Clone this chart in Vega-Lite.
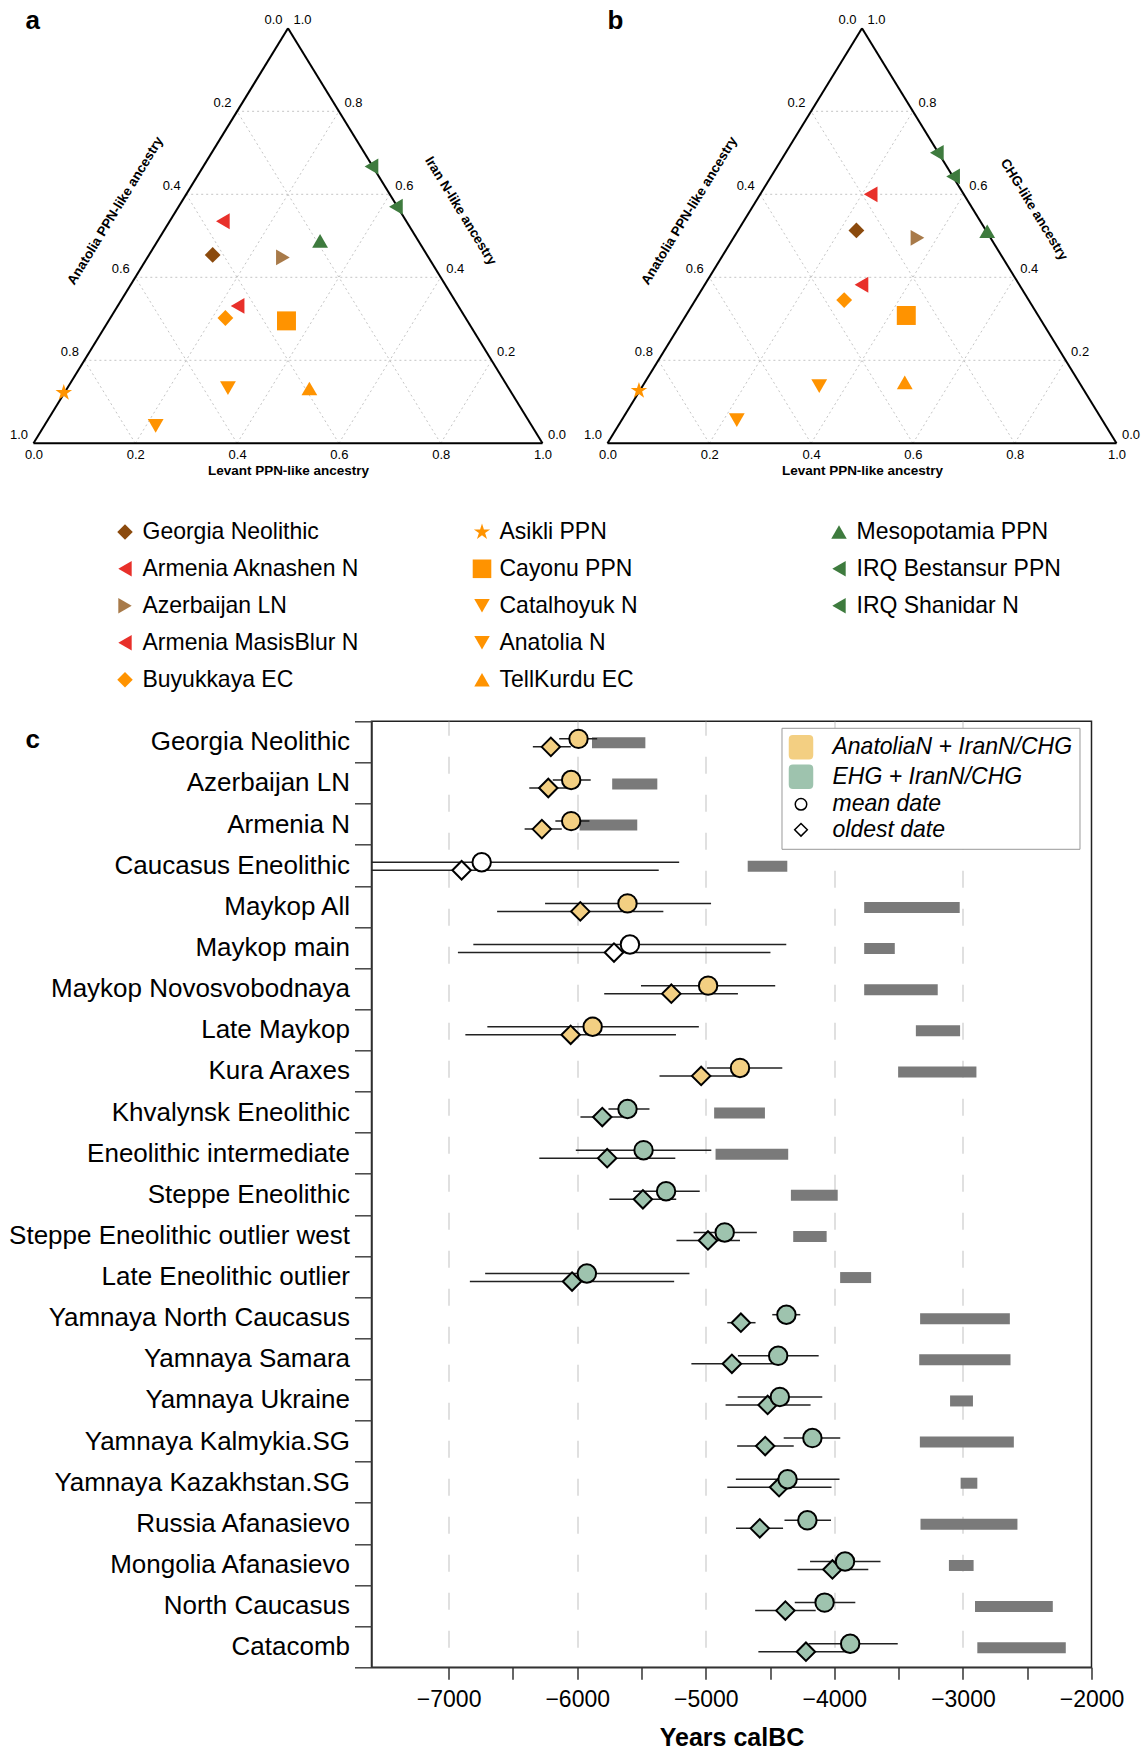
{
  "$schema": "https://vega.github.io/schema/vega-lite/v6.json",
  "background": "white",
  "padding": {"left": 7.5, "top": 7.3, "right": 5, "bottom": 5},
  "config": {
    "font": "Liberation Sans",
    "view": {"stroke": null},
    "axis": {"labelFont": "Liberation Sans", "titleFont": "Liberation Sans", "labelColor": "black", "titleColor": "black"},
    "legend": {"labelFont": "Liberation Sans", "labelColor": "black"},
    "title": {"font": "Liberation Sans", "color": "black"}
  },
  "datasets": {
    "edges": [
      {"x": 0, "y": 0, "x2": 1, "y2": 0},
      {"x": 0, "y": 0, "x2": 0.5, "y2": 1},
      {"x": 1, "y": 0, "x2": 0.5, "y2": 1}
    ],
    "grid": [
      {"x": 0.1, "y": 0.2, "x2": 0.9, "y2": 0.2},
      {"x": 0.2, "y": 0.4, "x2": 0.8, "y2": 0.4},
      {"x": 0.3, "y": 0.6, "x2": 0.7, "y2": 0.6},
      {"x": 0.4, "y": 0.8, "x2": 0.6, "y2": 0.8},
      {"x": 0.2, "y": 0, "x2": 0.6, "y2": 0.8},
      {"x": 0.4, "y": 0, "x2": 0.7, "y2": 0.6},
      {"x": 0.6, "y": 0, "x2": 0.8, "y2": 0.4},
      {"x": 0.8, "y": 0, "x2": 0.9, "y2": 0.2},
      {"x": 0.8, "y": 0, "x2": 0.4, "y2": 0.8},
      {"x": 0.6, "y": 0, "x2": 0.3, "y2": 0.6},
      {"x": 0.4, "y": 0, "x2": 0.2, "y2": 0.4},
      {"x": 0.2, "y": 0, "x2": 0.1, "y2": 0.2}
    ],
    "leftLabels": [
      {"x": 0.5, "y": 1, "t": "0.0"},
      {"x": 0.4, "y": 0.8, "t": "0.2"},
      {"x": 0.3, "y": 0.6, "t": "0.4"},
      {"x": 0.2, "y": 0.4, "t": "0.6"},
      {"x": 0.1, "y": 0.2, "t": "0.8"},
      {"x": 0, "y": 0, "t": "1.0"}
    ],
    "rightLabels": [
      {"x": 0.5, "y": 1, "t": "1.0"},
      {"x": 0.6, "y": 0.8, "t": "0.8"},
      {"x": 0.7, "y": 0.6, "t": "0.6"},
      {"x": 0.8, "y": 0.4, "t": "0.4"},
      {"x": 0.9, "y": 0.2, "t": "0.2"},
      {"x": 1, "y": 0, "t": "0.0"}
    ],
    "ptsA": [
      {"pop": "Georgia Neolithic", "x": 0.352, "y": 0.454},
      {"pop": "Armenia Aknashen N", "x": 0.372, "y": 0.535},
      {"pop": "Azerbaijan LN", "x": 0.49, "y": 0.448},
      {"pop": "Armenia MasisBlur N", "x": 0.401, "y": 0.331},
      {"pop": "Buyukkaya EC", "x": 0.377, "y": 0.302},
      {"pop": "Asikli PPN", "x": 0.0595, "y": 0.122},
      {"pop": "Cayonu PPN", "x": 0.497, "y": 0.295},
      {"pop": "Catalhoyuk N", "x": 0.382, "y": 0.133},
      {"pop": "Anatolia N", "x": 0.24, "y": 0.042},
      {"pop": "TellKurdu EC", "x": 0.542, "y": 0.132},
      {"pop": "Mesopotamia PPN", "x": 0.563, "y": 0.488},
      {"pop": "IRQ Bestansur PPN", "x": 0.664, "y": 0.667},
      {"pop": "IRQ Shanidar N", "x": 0.712, "y": 0.57}
    ],
    "ptsB": [
      {"pop": "Georgia Neolithic", "x": 0.489, "y": 0.513},
      {"pop": "Armenia Aknashen N", "x": 0.517, "y": 0.6},
      {"pop": "Azerbaijan LN", "x": 0.609, "y": 0.495},
      {"pop": "Armenia MasisBlur N", "x": 0.499, "y": 0.382},
      {"pop": "Buyukkaya EC", "x": 0.465, "y": 0.345},
      {"pop": "Asikli PPN", "x": 0.0618, "y": 0.127},
      {"pop": "Cayonu PPN", "x": 0.587, "y": 0.308},
      {"pop": "Catalhoyuk N", "x": 0.416, "y": 0.138},
      {"pop": "Anatolia N", "x": 0.254, "y": 0.056},
      {"pop": "TellKurdu EC", "x": 0.584, "y": 0.147},
      {"pop": "Mesopotamia PPN", "x": 0.746, "y": 0.511},
      {"pop": "IRQ Bestansur PPN", "x": 0.647, "y": 0.7},
      {"pop": "IRQ Shanidar N", "x": 0.679, "y": 0.643}
    ],
    "dates": [
      {"pop": "Georgia Neolithic", "grp": "AnatoliaN + IranN/CHG", "mean": -5990, "meanLo": -6140, "meanHi": -5845, "old": -6205, "oldLo": -6345, "oldHi": -6050, "barLo": -5885, "barHi": -5470},
      {"pop": "Azerbaijan LN", "grp": "AnatoliaN + IranN/CHG", "mean": -6047, "meanLo": -6190, "meanHi": -5895, "old": -6225, "oldLo": -6373, "oldHi": -6083, "barLo": -5728, "barHi": -5377},
      {"pop": "Armenia N", "grp": "AnatoliaN + IranN/CHG", "mean": -6047, "meanLo": -6170, "meanHi": -5905, "old": -6275, "oldLo": -6409, "oldHi": -6120, "barLo": -5982, "barHi": -5533},
      {"pop": "Caucasus Eneolithic", "grp": "unassigned", "mean": -6743, "meanLo": -7600, "meanHi": -5207, "old": -6899, "oldLo": -7600, "oldHi": -5366, "barLo": -4674, "barHi": -4366},
      {"pop": "Maykop All", "grp": "AnatoliaN + IranN/CHG", "mean": -5609, "meanLo": -6250, "meanHi": -4959, "old": -5976, "oldLo": -6623, "oldHi": -5330, "barLo": -3768, "barHi": -3025},
      {"pop": "Maykop main", "grp": "unassigned", "mean": -5590, "meanLo": -6808, "meanHi": -4374, "old": -5714, "oldLo": -6928, "oldHi": -4497, "barLo": -3768, "barHi": -3530},
      {"pop": "Maykop Novosvobodnaya", "grp": "AnatoliaN + IranN/CHG", "mean": -4982, "meanLo": -5504, "meanHi": -4460, "old": -5268, "oldLo": -5790, "oldHi": -4750, "barLo": -3768, "barHi": -3196},
      {"pop": "Late Maykop", "grp": "AnatoliaN + IranN/CHG", "mean": -5880, "meanLo": -6699, "meanHi": -5054, "old": -6051, "oldLo": -6870, "oldHi": -5232, "barLo": -3366, "barHi": -3022},
      {"pop": "Kura Araxes", "grp": "AnatoliaN + IranN/CHG", "mean": -4734, "meanLo": -4990, "meanHi": -4405, "old": -5036, "oldLo": -5360, "oldHi": -4750, "barLo": -3504, "barHi": -2895},
      {"pop": "Khvalynsk Eneolithic", "grp": "EHG + IranN/CHG", "mean": -5609, "meanLo": -5757, "meanHi": -5438, "old": -5805, "oldLo": -5975, "oldHi": -5649, "barLo": -4935, "barHi": -4540},
      {"pop": "Eneolithic intermediate", "grp": "EHG + IranN/CHG", "mean": -5484, "meanLo": -6011, "meanHi": -4957, "old": -5767, "oldLo": -6295, "oldHi": -5237, "barLo": -4924, "barHi": -4359},
      {"pop": "Steppe Eneolithic", "grp": "EHG + IranN/CHG", "mean": -5309, "meanLo": -5565, "meanHi": -5047, "old": -5489, "oldLo": -5750, "oldHi": -5230, "barLo": -4338, "barHi": -3974},
      {"pop": "Steppe Eneolithic outlier west", "grp": "EHG + IranN/CHG", "mean": -4853, "meanLo": -5095, "meanHi": -4603, "old": -4983, "oldLo": -5228, "oldHi": -4734, "barLo": -4320, "barHi": -4060},
      {"pop": "Late Eneolithic outlier", "grp": "EHG + IranN/CHG", "mean": -5925, "meanLo": -6716, "meanHi": -5127, "old": -6040, "oldLo": -6835, "oldHi": -5246, "barLo": -3955, "barHi": -3714},
      {"pop": "Yamnaya North Caucasus", "grp": "EHG + IranN/CHG", "mean": -4373, "meanLo": -4483, "meanHi": -4265, "old": -4727, "oldLo": -4833, "oldHi": -4613, "barLo": -3333, "barHi": -2635},
      {"pop": "Yamnaya Samara", "grp": "EHG + IranN/CHG", "mean": -4437, "meanLo": -4750, "meanHi": -4122, "old": -4797, "oldLo": -5112, "oldHi": -4458, "barLo": -3340, "barHi": -2630},
      {"pop": "Yamnaya Ukraine", "grp": "EHG + IranN/CHG", "mean": -4424, "meanLo": -4752, "meanHi": -4094, "old": -4519, "oldLo": -4846, "oldHi": -4185, "barLo": -3100, "barHi": -2922},
      {"pop": "Yamnaya Kalmykia.SG", "grp": "EHG + IranN/CHG", "mean": -4171, "meanLo": -4394, "meanHi": -3954, "old": -4538, "oldLo": -4756, "oldHi": -4316, "barLo": -3335, "barHi": -2604},
      {"pop": "Yamnaya Kazakhstan.SG", "grp": "EHG + IranN/CHG", "mean": -4364, "meanLo": -4766, "meanHi": -3960, "old": -4430, "oldLo": -4833, "oldHi": -4022, "barLo": -3018, "barHi": -2888},
      {"pop": "Russia Afanasievo", "grp": "EHG + IranN/CHG", "mean": -4210, "meanLo": -4388, "meanHi": -4026, "old": -4580, "oldLo": -4765, "oldHi": -4399, "barLo": -3330, "barHi": -2576},
      {"pop": "Mongolia Afanasievo\u00a0", "grp": "EHG + IranN/CHG", "mean": -3917, "meanLo": -4189, "meanHi": -3641, "old": -4015, "oldLo": -4286, "oldHi": -3736, "barLo": -3109, "barHi": -2917},
      {"pop": "North Caucasus", "grp": "EHG + IranN/CHG", "mean": -4076, "meanLo": -4308, "meanHi": -3837, "old": -4381, "oldLo": -4616, "oldHi": -4145, "barLo": -2906, "barHi": -2301},
      {"pop": "Catacomb", "grp": "EHG + IranN/CHG", "mean": -3877, "meanLo": -4200, "meanHi": -3507, "old": -4221, "oldLo": -4591, "oldHi": -3910, "barLo": -2888, "barHi": -2200}
    ]
  },
  "bounds": "flush",
  "spacing": 693,
  "resolve": {
    "scale": {"color": "independent", "shape": "independent", "fill": "independent", "stroke": "independent"},
    "legend": {"color": "independent", "shape": "independent", "fill": "independent", "stroke": "independent"}
  },
  "vconcat": [
    {
      "bounds": "flush",
      "spacing": 65,
      "resolve": {"legend": {"color": "independent", "shape": "independent"}},
      "hconcat": [
        {
          "width": 509,
          "height": 415,
          "title": {"text": "a", "anchor": "start", "frame": "group", "fontSize": 26, "fontWeight": "bold", "dx": -8, "offset": -40.5, "baseline": "alphabetic"},
          "layer": [
            {
              "data": {"name": "grid"},
              "mark": {"type": "rule", "stroke": "#c4c4c4", "strokeDash": [2, 3], "strokeWidth": 1},
              "encoding": {
                "x": {"field": "x", "type": "quantitative", "scale": {"domain": [0, 1], "nice": false, "zero": false},
                  "axis": {"values": [0, 0.2, 0.4, 0.6, 0.8, 1], "format": ".1f", "labelFontSize": 13, "labelFlush": false, "ticks": false, "domain": false, "grid": false, "labelPadding": 5, "title": "Levant PPN-like ancestry", "titleFontSize": 13.5, "titleFontWeight": "bold", "titlePadding": 2}},
                "y": {"field": "y", "type": "quantitative", "scale": {"domain": [0, 1], "nice": false, "zero": false}, "axis": null},
                "x2": {"field": "x2"},
                "y2": {"field": "y2"}
              }
            },
            {
              "data": {"name": "edges"},
              "mark": {"type": "rule", "stroke": "black", "strokeWidth": 2},
              "encoding": {
                "x": {"field": "x", "type": "quantitative"},
                "y": {"field": "y", "type": "quantitative"},
                "x2": {"field": "x2"},
                "y2": {"field": "y2"}
              }
            },
            {
              "data": {"name": "leftLabels"},
              "mark": {"type": "text", "align": "right", "baseline": "alphabetic", "dx": -5.5, "dy": -4, "fontSize": 13, "color": "black"},
              "encoding": {
                "x": {"field": "x", "type": "quantitative"},
                "y": {"field": "y", "type": "quantitative"},
                "text": {"field": "t"}
              }
            },
            {
              "data": {"name": "rightLabels"},
              "mark": {"type": "text", "align": "left", "baseline": "alphabetic", "dx": 5.5, "dy": -4, "fontSize": 13, "color": "black"},
              "encoding": {
                "x": {"field": "x", "type": "quantitative"},
                "y": {"field": "y", "type": "quantitative"},
                "text": {"field": "t"}
              }
            },
            {
              "data": {"values": [{"t": "Anatolia PPN-like ancestry", "x": 0.161, "y": 0.56}]},
              "mark": {"type": "text", "angle": -58.5, "align": "center", "baseline": "middle", "fontSize": 13.5, "fontWeight": "bold", "color": "black"},
              "encoding": {
                "x": {"field": "x", "type": "quantitative"},
                "y": {"field": "y", "type": "quantitative"},
                "text": {"field": "t"}
              }
            },
            {
              "data": {"values": [{"t": "Iran N-like ancestry", "x": 0.839, "y": 0.56}]},
              "mark": {"type": "text", "angle": 58.5, "align": "center", "baseline": "middle", "fontSize": 13.5, "fontWeight": "bold", "color": "black"},
              "encoding": {
                "x": {"field": "x", "type": "quantitative"},
                "y": {"field": "y", "type": "quantitative"},
                "text": {"field": "t"}
              }
            },
            {
              "data": {"name": "ptsA"},
              "mark": {"type": "point", "filled": true, "size": 250, "opacity": 1, "strokeWidth": 0},
              "encoding": {
                "x": {"field": "x", "type": "quantitative"},
                "y": {"field": "y", "type": "quantitative"},
                "color": {"field": "pop", "type": "nominal",
                  "scale": {
                    "domain": ["Georgia Neolithic", "Armenia Aknashen N", "Azerbaijan LN", "Armenia MasisBlur N", "Buyukkaya EC", "Asikli PPN", "Cayonu PPN", "Catalhoyuk N", "Anatolia N", "TellKurdu EC", "Mesopotamia PPN", "IRQ Bestansur PPN", "IRQ Shanidar N", " ", "  "],
                    "range": ["#8B4A0D", "#E8302A", "#A87A49", "#E8302A", "#FF9300", "#FF9300", "#FF9300", "#FF9300", "#FF9300", "#FF9300", "#3E7B3E", "#3E7B3E", "#3E7B3E", "rgba(0,0,0,0)", "rgba(0,0,0,0)"]
                  },
                  "legend": {"title": null, "orient": "none", "legendX": 80, "legendY": 492, "columns": 3, "columnPadding": 110, "rowPadding": 13, "padding": 0, "labelFontSize": 23, "labelLimit": 400, "symbolSize": 240, "labelOffset": 6, "gridAlign": "all", "symbolStrokeWidth": 0, "symbolOpacity": 1}
                },
                "shape": {"field": "pop", "type": "nominal",
                  "scale": {
                    "domain": ["Georgia Neolithic", "Armenia Aknashen N", "Azerbaijan LN", "Armenia MasisBlur N", "Buyukkaya EC", "Asikli PPN", "Cayonu PPN", "Catalhoyuk N", "Anatolia N", "TellKurdu EC", "Mesopotamia PPN", "IRQ Bestansur PPN", "IRQ Shanidar N", " ", "  "],
                    "range": ["diamond", "triangle-left", "triangle-right", "triangle-left", "diamond", "M0,-1.1L0.247,-0.34L1.046,-0.34L0.4,0.13L0.647,0.89L0,0.42L-0.647,0.89L-0.4,0.13L-1.046,-0.34L-0.247,-0.34Z", "M-1.2,-1.2H1.2V1.2H-1.2Z", "triangle-down", "triangle-down", "triangle-up", "triangle-up", "triangle-left", "triangle-left", "circle", "circle"]
                  },
                  "legend": {"title": null, "orient": "none", "legendX": 80, "legendY": 492, "columns": 3, "columnPadding": 110, "rowPadding": 13, "padding": 0, "labelFontSize": 23, "labelLimit": 400, "symbolSize": 240, "labelOffset": 6, "gridAlign": "all", "symbolStrokeWidth": 0, "symbolOpacity": 1}
                }
              }
            }
          ]
        },
        {
          "width": 509,
          "height": 415,
          "title": {"text": "b", "anchor": "start", "frame": "group", "fontSize": 26, "fontWeight": "bold", "dx": 0, "offset": -40.5, "baseline": "alphabetic"},
          "layer": [
            {
              "data": {"name": "grid"},
              "mark": {"type": "rule", "stroke": "#c4c4c4", "strokeDash": [2, 3], "strokeWidth": 1},
              "encoding": {
                "x": {"field": "x", "type": "quantitative", "scale": {"domain": [0, 1], "nice": false, "zero": false},
                  "axis": {"values": [0, 0.2, 0.4, 0.6, 0.8, 1], "format": ".1f", "labelFontSize": 13, "labelFlush": false, "ticks": false, "domain": false, "grid": false, "labelPadding": 5, "title": "Levant PPN-like ancestry", "titleFontSize": 13.5, "titleFontWeight": "bold", "titlePadding": 2}},
                "y": {"field": "y", "type": "quantitative", "scale": {"domain": [0, 1], "nice": false, "zero": false}, "axis": null},
                "x2": {"field": "x2"},
                "y2": {"field": "y2"}
              }
            },
            {
              "data": {"name": "edges"},
              "mark": {"type": "rule", "stroke": "black", "strokeWidth": 2},
              "encoding": {
                "x": {"field": "x", "type": "quantitative"},
                "y": {"field": "y", "type": "quantitative"},
                "x2": {"field": "x2"},
                "y2": {"field": "y2"}
              }
            },
            {
              "data": {"name": "leftLabels"},
              "mark": {"type": "text", "align": "right", "baseline": "alphabetic", "dx": -5.5, "dy": -4, "fontSize": 13, "color": "black"},
              "encoding": {
                "x": {"field": "x", "type": "quantitative"},
                "y": {"field": "y", "type": "quantitative"},
                "text": {"field": "t"}
              }
            },
            {
              "data": {"name": "rightLabels"},
              "mark": {"type": "text", "align": "left", "baseline": "alphabetic", "dx": 5.5, "dy": -4, "fontSize": 13, "color": "black"},
              "encoding": {
                "x": {"field": "x", "type": "quantitative"},
                "y": {"field": "y", "type": "quantitative"},
                "text": {"field": "t"}
              }
            },
            {
              "data": {"values": [{"t": "Anatolia PPN-like ancestry", "x": 0.161, "y": 0.56}]},
              "mark": {"type": "text", "angle": -58.5, "align": "center", "baseline": "middle", "fontSize": 13.5, "fontWeight": "bold", "color": "black"},
              "encoding": {
                "x": {"field": "x", "type": "quantitative"},
                "y": {"field": "y", "type": "quantitative"},
                "text": {"field": "t"}
              }
            },
            {
              "data": {"values": [{"t": "CHG-like ancestry", "x": 0.838, "y": 0.563}]},
              "mark": {"type": "text", "angle": 58.5, "align": "center", "baseline": "middle", "fontSize": 13.5, "fontWeight": "bold", "color": "black"},
              "encoding": {
                "x": {"field": "x", "type": "quantitative"},
                "y": {"field": "y", "type": "quantitative"},
                "text": {"field": "t"}
              }
            },
            {
              "data": {"name": "ptsB"},
              "mark": {"type": "point", "filled": true, "size": 250, "opacity": 1, "strokeWidth": 0},
              "encoding": {
                "x": {"field": "x", "type": "quantitative"},
                "y": {"field": "y", "type": "quantitative"},
                "color": {"field": "pop", "type": "nominal",
                  "scale": {
                    "domain": ["Georgia Neolithic", "Armenia Aknashen N", "Azerbaijan LN", "Armenia MasisBlur N", "Buyukkaya EC", "Asikli PPN", "Cayonu PPN", "Catalhoyuk N", "Anatolia N", "TellKurdu EC", "Mesopotamia PPN", "IRQ Bestansur PPN", "IRQ Shanidar N", " ", "  "],
                    "range": ["#8B4A0D", "#E8302A", "#A87A49", "#E8302A", "#FF9300", "#FF9300", "#FF9300", "#FF9300", "#FF9300", "#FF9300", "#3E7B3E", "#3E7B3E", "#3E7B3E", "rgba(0,0,0,0)", "rgba(0,0,0,0)"]
                  },
                  "legend": null
                },
                "shape": {"field": "pop", "type": "nominal",
                  "scale": {
                    "domain": ["Georgia Neolithic", "Armenia Aknashen N", "Azerbaijan LN", "Armenia MasisBlur N", "Buyukkaya EC", "Asikli PPN", "Cayonu PPN", "Catalhoyuk N", "Anatolia N", "TellKurdu EC", "Mesopotamia PPN", "IRQ Bestansur PPN", "IRQ Shanidar N", " ", "  "],
                    "range": ["diamond", "triangle-left", "triangle-right", "triangle-left", "diamond", "M0,-1.1L0.247,-0.34L1.046,-0.34L0.4,0.13L0.647,0.89L0,0.42L-0.647,0.89L-0.4,0.13L-1.046,-0.34L-0.247,-0.34Z", "M-1.2,-1.2H1.2V1.2H-1.2Z", "triangle-down", "triangle-down", "triangle-up", "triangle-up", "triangle-left", "triangle-left", "circle", "circle"]
                  },
                  "legend": null
                }
              }
            }
          ]
        }
      ]
    },
    {
      "bounds": "flush",
      "spacing": 38,
      "hconcat": [
        {
          "width": 300,
          "height": 946,
          "title": {"text": "c", "anchor": "start", "frame": "group", "fontSize": 26, "fontWeight": "bold", "dx": -8, "offset": -53, "baseline": "alphabetic"},
          "data": {"values": [{"v": 0}]},
          "mark": {"type": "point", "opacity": 0},
          "encoding": {}
        },
        {
          "width": 720,
          "height": 946,
          "view": {"stroke": "#222", "strokeWidth": 1.5},
          "data": {"name": "dates"},
          "encoding": {
            "y": {"field": "pop", "type": "nominal", "sort": null, "scale": {"paddingInner": 0, "paddingOuter": 0},
              "axis": {"title": null, "labelFontSize": 26, "labelLimit": 500, "tickSize": 17, "tickColor": "#444", "tickWidth": 1.5, "tickBand": "extent", "labelPadding": 5, "domainColor": "#333", "domainWidth": 1.5}}
          },
          "layer": [
            {
              "mark": {"type": "bar", "color": "#7A7A7A", "height": 11, "yOffset": 1},
              "encoding": {
                "x": {"field": "barLo", "type": "quantitative", "scale": {"domain": [-7600, -2000], "nice": false, "zero": false},
                  "axis": {"values": [-7000, -6500, -6000, -5500, -5000, -4500, -4000, -3500, -3000, -2500, -2000], "format": "d", "labelExpr": "datum.value % 1000 === 0 ? datum.label : ''", "labelFontSize": 23, "labelFlush": false, "tickSize": 12, "tickColor": "#333", "tickWidth": 1.5, "domainColor": "#333", "domainWidth": 1.5, "labelPadding": 9, "grid": true, "gridColor": "#d6d6d6", "gridWidth": 1.5, "gridDash": [17, 21], "gridDashOffset": 18, "gridOpacity": {"condition": {"test": "datum.value % 1000 === 0 && datum.value < -2000", "value": 1}, "value": 0}, "title": "Years calBC", "titleFontSize": 25, "titleFontWeight": "bold", "titlePadding": 14}},
                "x2": {"field": "barHi"}
              }
            },
            {
              "mark": {"type": "rule", "stroke": "#222", "strokeWidth": 1.5, "yOffset": 5},
              "encoding": {
                "x": {"field": "oldLo", "type": "quantitative", "scale": {"domain": [-7600, -2000], "nice": false, "zero": false}},
                "x2": {"field": "oldHi"}
              }
            },
            {
              "mark": {"type": "rule", "stroke": "#222", "strokeWidth": 1.5, "yOffset": -3},
              "encoding": {
                "x": {"field": "meanLo", "type": "quantitative", "scale": {"domain": [-7600, -2000], "nice": false, "zero": false}},
                "x2": {"field": "meanHi"}
              }
            },
            {
              "mark": {"type": "point", "shape": "diamond", "filled": true, "size": 340, "stroke": "black", "strokeWidth": 2, "opacity": 1, "yOffset": 5},
              "encoding": {
                "x": {"field": "old", "type": "quantitative", "scale": {"domain": [-7600, -2000], "nice": false, "zero": false}},
                "color": {"field": "grp", "type": "nominal", "scale": {"domain": ["AnatoliaN + IranN/CHG", "EHG + IranN/CHG", "unassigned"], "range": ["#F3CF82", "#9EC3AE", "#FFFFFF"]}, "legend": null}
              }
            },
            {
              "mark": {"type": "point", "shape": "circle", "filled": true, "size": 340, "stroke": "black", "strokeWidth": 2, "opacity": 1, "yOffset": -3},
              "encoding": {
                "x": {"field": "mean", "type": "quantitative", "scale": {"domain": [-7600, -2000], "nice": false, "zero": false}},
                "color": {"field": "grp", "type": "nominal", "scale": {"domain": ["AnatoliaN + IranN/CHG", "EHG + IranN/CHG", "unassigned"], "range": ["#F3CF82", "#9EC3AE", "#FFFFFF"]}, "legend": null}
              }
            },
            {
              "data": {"values": [{"key": "AnatoliaN + IranN/CHG"}, {"key": "EHG + IranN/CHG"}, {"key": "mean date"}, {"key": "oldest date"}]},
              "mark": {"type": "point", "filled": true, "invalid": "filter", "strokeWidth": 1.5, "opacity": 1},
              "encoding": {
                "y": {"value": 0},
                "x": {"field": "none", "type": "quantitative", "scale": {"domain": [-7600, -2000], "nice": false, "zero": false}},
                "fill": {"field": "key", "type": "nominal",
                  "scale": {"domain": ["AnatoliaN + IranN/CHG", "EHG + IranN/CHG", "mean date", "oldest date"], "range": ["#F3CF82", "#9EC3AE", "#FFFFFF", "#FFFFFF"]},
                  "legend": {"title": null, "orient": "none", "legendX": 748, "legendY": 6.5, "padding": 7, "strokeColor": "#999", "fillColor": "white", "labelFontSize": 23, "labelFontStyle": "italic", "labelLimit": 500, "symbolSize": 529, "symbolStrokeWidth": 1.5, "rowPadding": 0.5, "labelOffset": 19}},
                "stroke": {"field": "key", "type": "nominal",
                  "scale": {"domain": ["AnatoliaN + IranN/CHG", "EHG + IranN/CHG", "mean date", "oldest date"], "range": ["#F3CF82", "#9EC3AE", "#000000", "#000000"]},
                  "legend": {"title": null, "orient": "none", "legendX": 748, "legendY": 6.5, "padding": 7, "strokeColor": "#999", "fillColor": "white", "labelFontSize": 23, "labelFontStyle": "italic", "labelLimit": 500, "symbolSize": 529, "symbolStrokeWidth": 1.5, "rowPadding": 0.5, "labelOffset": 19}},
                "shape": {"field": "key", "type": "nominal",
                  "scale": {"domain": ["AnatoliaN + IranN/CHG", "EHG + IranN/CHG", "mean date", "oldest date"], "range": ["M-1,-0.7Q-1,-1,-0.7,-1H0.7Q1,-1,1,-0.7V0.7Q1,1,0.7,1H-0.7Q-1,1,-1,0.7Z", "M-1,-0.7Q-1,-1,-0.7,-1H0.7Q1,-1,1,-0.7V0.7Q1,1,0.7,1H-0.7Q-1,1,-1,0.7Z", "M0.5,0A0.5,0.5,0,1,1,-0.5,0A0.5,0.5,0,1,1,0.5,0Z", "M0,-0.55L0.55,0L0,0.55L-0.55,0Z"]},
                  "legend": {"title": null, "orient": "none", "legendX": 748, "legendY": 6.5, "padding": 7, "strokeColor": "#999", "fillColor": "white", "labelFontSize": 23, "labelFontStyle": "italic", "labelLimit": 500, "symbolSize": 529, "symbolStrokeWidth": 1.5, "rowPadding": 0.5, "labelOffset": 19}}
              }
            }
          ]
        }
      ]
    }
  ]
}
